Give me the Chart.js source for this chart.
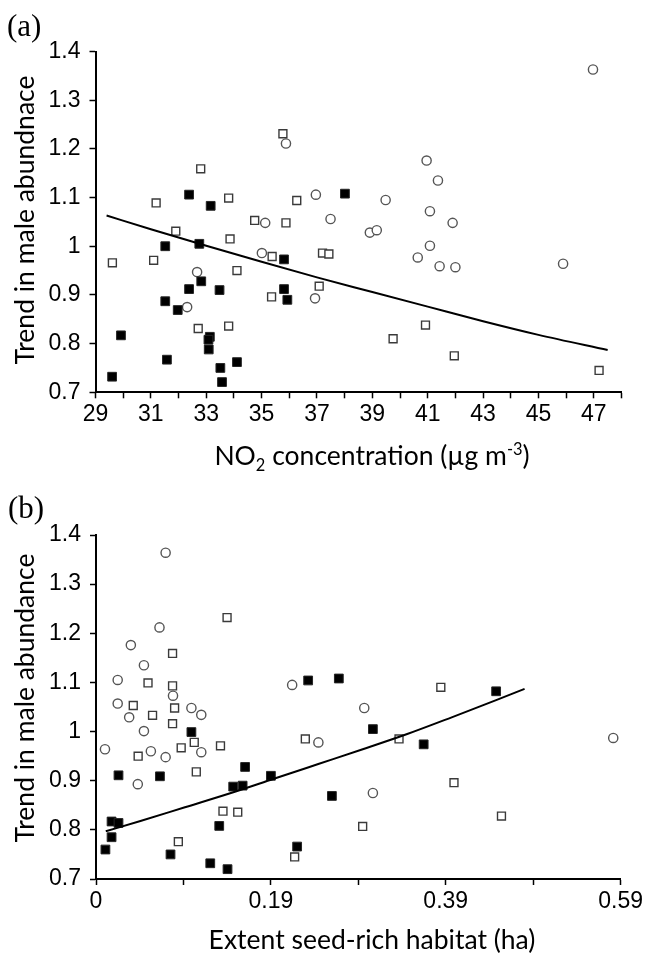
<!DOCTYPE html>
<html>
<head>
<meta charset="utf-8">
<script src="https://cdn.jsdelivr.net/npm/chart.js@4.4.1/dist/chart.umd.min.js"></script>
<style>
  body { margin: 0; background: #fff; }
  #page { position: relative; width: 646px; height: 954px; overflow: hidden; background: #fff; }
  canvas { position: absolute; left: 0; }
  .panel-tag { position: absolute; font: 31px 'Liberation Serif', 'Times New Roman', serif; line-height: 31px; color: #000; }
  .axis-title { position: absolute; font: 26.5px Lato, Carlito, Calibri, sans-serif; line-height: 30px; color: #000; white-space: nowrap; transform: translate(-50%, -50%); }
  .axis-title.vertical { transform: translate(-50%, -50%) rotate(-90deg); }
  sub, sup { font-size: 62%; line-height: 0; }
</style>
</head>
<body>
<div id="page">
  <canvas id="chart-a" width="646" height="477" style="top:0"></canvas>
  <canvas id="chart-b" width="646" height="477" style="top:477px"></canvas>
  <div class="panel-tag" style="left:7px; top:10px">(a)</div>
  <div class="panel-tag" style="left:8px; top:492px">(b)</div>
  <div class="axis-title vertical" style="left:24px; top:220px">Trend in male abundnace</div>
  <div class="axis-title" style="left:372px; top:455px">NO<sub>2</sub> concentration (µg m<sup>-3</sup>)</div>
  <div class="axis-title vertical" style="left:24px; top:698px">Trend in male abundance</div>
  <div class="axis-title" style="left:372px; top:939px">Extent seed-rich habitat (ha)</div>
</div>
<script>
;(function () {
  // panel (a): NO2 concentration vs trend
  const circleNo2 = [46.97, 35.88, 40.96, 41.37, 36.96, 39.48, 41.08, 37.49, 41.90, 35.13, 38.91, 39.16, 35.01, 41.08, 40.64, 41.43, 42.00, 45.89, 32.67, 32.31, 36.93]
  const circleTrendA = [1.363, 1.211, 1.176, 1.135, 1.106, 1.095, 1.072, 1.056, 1.048, 1.048, 1.028, 1.033, 0.986, 1.001, 0.977, 0.959, 0.957, 0.964, 0.947, 0.875, 0.893]
  const openSqNo2 = [35.77, 32.80, 31.19, 33.81, 36.27, 34.75, 35.88, 31.90, 33.86, 29.61, 31.10, 35.38, 37.20, 37.43, 34.11, 37.08, 35.36, 32.71, 33.81, 40.92, 39.75, 41.96, 47.19]
  const openSqTrendA = [1.231, 1.159, 1.089, 1.099, 1.094, 1.053, 1.048, 1.031, 1.015, 0.966, 0.971, 0.979, 0.986, 0.984, 0.950, 0.918, 0.896, 0.831, 0.836, 0.838, 0.810, 0.775, 0.745]
  const filledSqNo2 = [32.38, 33.16, 38.01, 32.75, 31.52, 35.81, 32.38, 32.82, 33.48, 35.81, 35.93, 31.52, 31.97, 29.92, 33.13, 33.08, 33.09, 31.58, 34.11, 33.51, 33.57, 29.60]
  const filledSqTrendA = [1.106, 1.083, 1.108, 1.005, 1.000, 0.973, 0.912, 0.928, 0.910, 0.912, 0.890, 0.887, 0.869, 0.817, 0.814, 0.808, 0.788, 0.767, 0.762, 0.750, 0.721, 0.732]
  const fitNo2 = [29.4, 31, 33, 35, 37, 39, 41, 43, 45, 47.5]
  const fitTrendA = [1.063, 1.035, 1.001, 0.968, 0.936, 0.906, 0.876, 0.846, 0.818, 0.787]

  // panel (b): seed-rich habitat vs trend
  const circleHab = [0.0783, 0.0714, 0.0392, 0.0539, 0.0244, 0.0866, 0.2206, 0.3017, 0.0244, 0.1073, 0.0373, 0.0539, 0.1184, 0.0101, 0.0617, 0.0783, 0.1184, 0.0470, 0.2501, 0.3114, 0.5817]
  const circleTrendB = [1.364, 1.212, 1.176, 1.135, 1.105, 1.073, 1.095, 1.048, 1.057, 1.048, 1.029, 1.001, 1.034, 0.964, 0.960, 0.948, 0.958, 0.893, 0.978, 0.875, 0.987]
  const openSqHab = [0.1474, 0.0861, 0.0585, 0.0861, 0.3878, 0.0419, 0.0884, 0.0636, 0.0861, 0.1105, 0.0958, 0.0474, 0.1400, 0.1128, 0.2354, 0.3408, 0.4026, 0.1428, 0.1594, 0.4560, 0.2999, 0.0926, 0.2234]
  const openSqTrendB = [1.232, 1.159, 1.099, 1.093, 1.090, 1.053, 1.048, 1.033, 1.016, 0.978, 0.967, 0.950, 0.971, 0.918, 0.985, 0.985, 0.896, 0.838, 0.836, 0.828, 0.807, 0.776, 0.745]
  const filledSqHab = [0.2386, 0.2731, 0.4500, 0.1073, 0.3114, 0.3685, 0.0253, 0.0719, 0.1677, 0.1543, 0.1649, 0.1967, 0.2653, 0.0175, 0.0253, 0.0175, 0.0106, 0.1386, 0.0838, 0.1285, 0.1479, 0.2262]
  const filledSqTrendB = [1.104, 1.108, 1.082, 0.999, 1.005, 0.974, 0.911, 0.909, 0.928, 0.888, 0.890, 0.910, 0.869, 0.817, 0.814, 0.785, 0.760, 0.808, 0.750, 0.732, 0.720, 0.766]
  const fitHab = [0.011, 0.05, 0.1, 0.15, 0.2, 0.25, 0.3, 0.35, 0.4, 0.45, 0.482]
  const fitTrendB = [0.797, 0.818, 0.846, 0.874, 0.904, 0.934, 0.964, 0.995, 1.029, 1.064, 1.087]

  // axes
  const yTicks = [0.7, 0.8, 0.9, 1, 1.1, 1.2, 1.3, 1.4]
  const yTickLabels = ['0.7', '0.8', '0.9', '1', '1.1', '1.2', '1.3', '1.4']
  const no2Ticks = [29, 30, 31, 32, 33, 34, 35, 36, 37, 38, 39, 40, 41, 42, 43, 44, 45, 46, 47, 48]
  const no2TickLabels = ['29', '31', '33', '35', '37', '39', '41', '43', '45', '47']
  const habMax = 0.59
  const habTickLabels = ['0', '0.19', '0.39', '0.59']

  const tickFont = { family: "'Liberation Sans Narrow', 'Arial Narrow', 'Liberation Sans', Arial, sans-serif", size: 23 }

  function points(xs, ys) {
    return xs.map((x, i) => ({ x, y: ys[i] }))
  }

  function datasets(cx, cy, ox, oy, fx, fy, lx, ly) {
    return [
      {
        data: points(lx, ly), showLine: true, pointRadius: 0,
        borderColor: '#000', borderWidth: 2, cubicInterpolationMode: 'monotone', order: 0
      },
      {
        data: points(fx, fy), pointStyle: 'rect', pointRadius: 6.2,
        backgroundColor: '#000', borderColor: '#262626', borderWidth: 1, order: 1
      },
      {
        data: points(ox, oy), pointStyle: 'rect', pointRadius: 5.6,
        backgroundColor: '#fff', borderColor: '#3a3a3a', borderWidth: 1.4, order: 2
      },
      {
        data: points(cx, cy), pointStyle: 'circle', pointRadius: 4.6,
        backgroundColor: '#fff', borderColor: '#555', borderWidth: 1.4, order: 3
      }
    ]
  }

  function axisLook() {
    return {
      grid: { drawOnChartArea: false, drawTicks: true, tickLength: 6, tickWidth: 1.5, tickColor: '#000' },
      border: { display: true, color: '#000', width: 2 }
    }
  }

  function makeChart(id, sets, xScale, box) {
    return new Chart(document.getElementById(id), {
      type: 'scatter',
      data: { datasets: sets },
      options: {
        responsive: false,
        animation: false,
        events: [],
        layout: { padding: { left: 0, right: box.right, top: box.top, bottom: 0 } },
        plugins: { legend: { display: false }, tooltip: { enabled: false } },
        scales: {
          x: Object.assign(axisLook(), xScale, {
            afterFit: (s) => { s.height = box.xHeight }
          }),
          y: Object.assign(axisLook(), {
            type: 'linear',
            min: 0.7,
            max: 1.4,
            afterBuildTicks: (s) => { s.ticks = yTicks.map((v) => ({ value: v })) },
            ticks: { font: tickFont, color: '#000', padding: 9, callback: (v, i) => yTickLabels[i] },
            afterFit: (s) => { s.width = box.yWidth }
          })
        }
      }
    })
  }

  makeChart('chart-a',
    datasets(circleNo2, circleTrendA, openSqNo2, openSqTrendA, filledSqNo2, filledSqTrendA, fitNo2, fitTrendA),
    {
      type: 'linear',
      min: 29,
      max: 48,
      afterBuildTicks: (s) => { s.ticks = no2Ticks.map((v) => ({ value: v })) },
      ticks: {
        font: tickFont, color: '#000', padding: 3, maxRotation: 0, autoSkip: false,
        callback: (v) => (no2TickLabels.includes(String(v)) ? String(v) : '')
      }
    },
    { yWidth: 95.5, right: 24.5, top: 51.5, xHeight: 84.7 }
  )

  makeChart('chart-b',
    datasets(circleHab, circleTrendB, openSqHab, openSqTrendB, filledSqHab, filledSqTrendB, fitHab, fitTrendB),
    {
      type: 'linear',
      min: 0,
      max: habMax,
      afterBuildTicks: (s) => { s.ticks = [0, 1, 2, 3, 4, 5, 6].map((k) => ({ value: (habMax * k) / 6 })) },
      ticks: {
        font: tickFont, color: '#000', padding: 3, maxRotation: 0, autoSkip: false,
        callback: (v, i) => (i % 2 === 0 ? habTickLabels[i / 2] : '')
      }
    },
    { yWidth: 96, right: 24, top: 58, xHeight: 75 }
  )
})()
</script>
</body>
</html>
